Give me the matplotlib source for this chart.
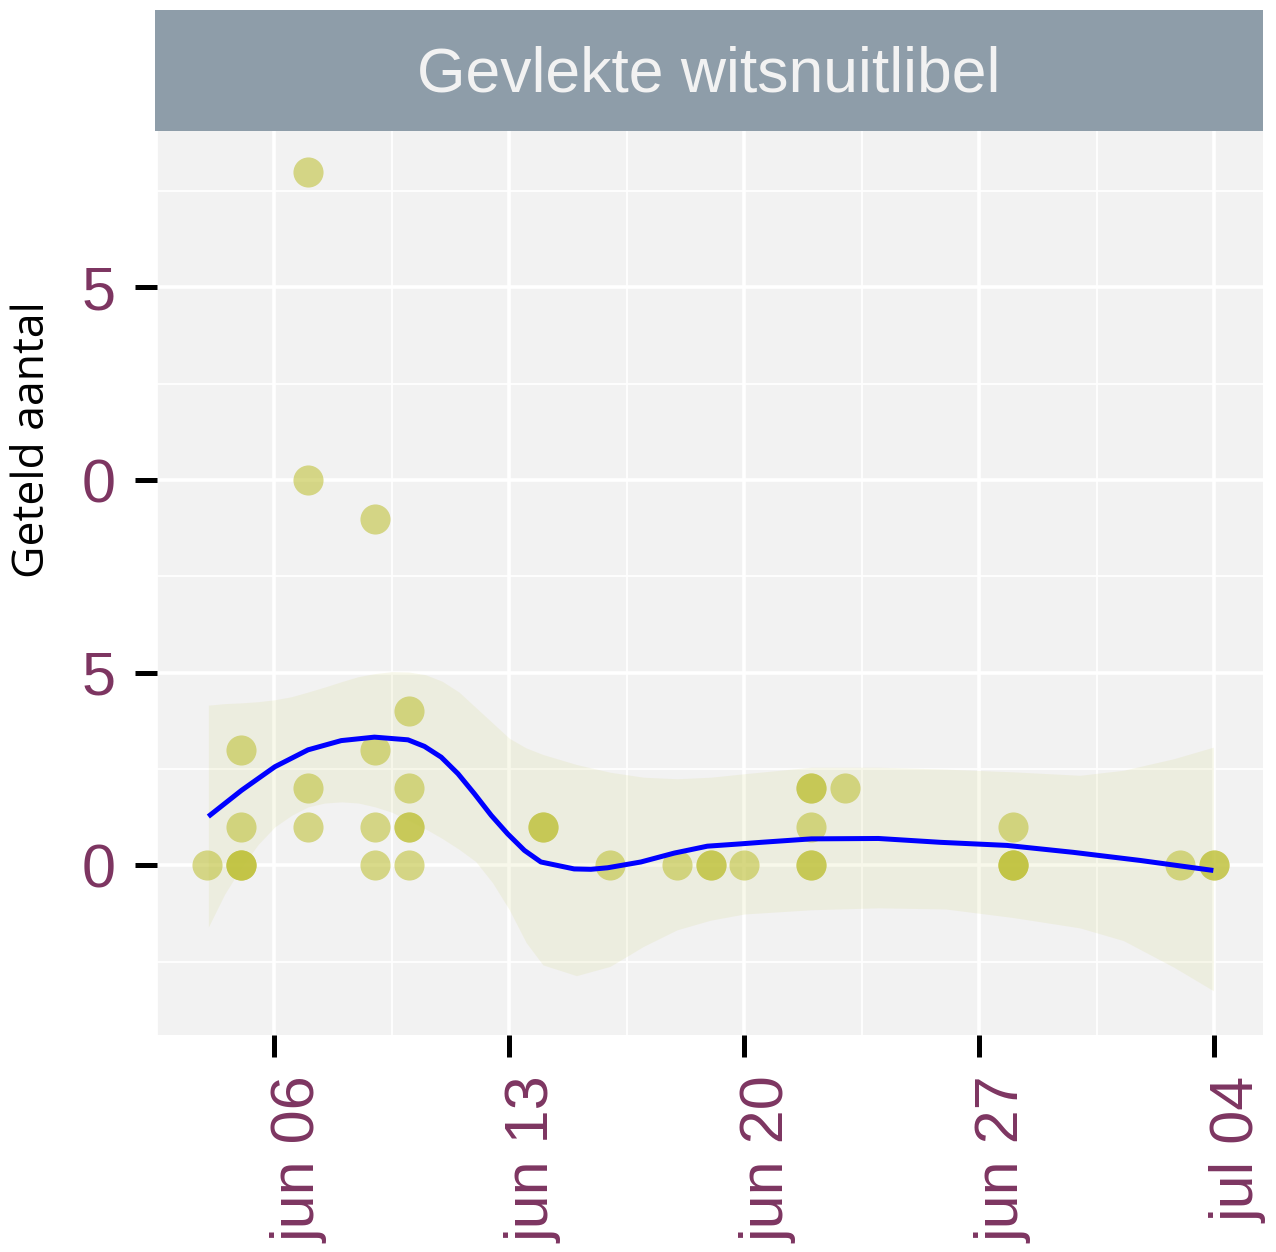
import pandas as pd
import numpy as np
import matplotlib
matplotlib.use("Agg")
import matplotlib.pyplot as plt
import matplotlib.transforms as mtransforms

## observed counts (duplicates repeated so that overlapping dots get darker)
obs_date = ['2021-06-04',
            '2021-06-05', '2021-06-05', '2021-06-05', '2021-06-05', '2021-06-05',
            '2021-06-07', '2021-06-07', '2021-06-07', '2021-06-07',
            '2021-06-09', '2021-06-09', '2021-06-09', '2021-06-09',
            '2021-06-10', '2021-06-10', '2021-06-10', '2021-06-10', '2021-06-10',
            '2021-06-14', '2021-06-14',
            '2021-06-16', '2021-06-18', '2021-06-19', '2021-06-19', '2021-06-20',
            '2021-06-22', '2021-06-22', '2021-06-22', '2021-06-22', '2021-06-22',
            '2021-06-23',
            '2021-06-28', '2021-06-28', '2021-06-28', '2021-06-28',
            '2021-07-03', '2021-07-04', '2021-07-04']
obs_count = [0,
             0, 0, 0, 1, 3,
             18, 10, 2, 1,
             9, 3, 1, 0,
             4, 2, 1, 1, 0,
             1, 1,
             0, 0, 0, 0, 0,
             2, 2, 1, 0, 0,
             2,
             1, 0, 0, 0,
             0, 0, 0]

## smoother line (day of june, jul 4 = 34)
curve_day = [4.03, 5.02, 6.01, 7.0, 7.99, 8.98, 9.98, 10.47, 10.97, 11.47, 11.96,
             12.46, 12.95, 13.45, 13.94, 14.93, 15.43, 15.93, 16.92, 17.91, 18.9,
             19.89, 20.5, 22.0, 24.0, 25.85, 27.83, 29.81, 31.8, 33.98]
curve_val = [1.27, 1.95, 2.56, 3.0, 3.24, 3.33, 3.26, 3.09, 2.81, 2.38, 1.86,
             1.30, 0.82, 0.39, 0.09, -0.09, -0.10, -0.06, 0.09, 0.32, 0.50,
             0.56, 0.60, 0.69, 0.70, 0.60, 0.52, 0.34, 0.13, -0.13]

## confidence band
band_day = [4.03, 4.52, 5.02, 5.52, 6.01, 6.51, 7.0, 7.5, 8.0, 8.5, 9.0, 9.5, 10.0,
            10.5, 11.0, 11.5, 12.0, 12.5, 13.0, 13.5, 14.0, 15.0, 16.0, 17.0, 18.0,
            19.0, 20.0, 22.0, 24.0, 26.0, 28.0, 30.0, 31.3, 32.8, 33.98]
band_up = [4.16, 4.2, 4.22, 4.25, 4.3, 4.38, 4.5, 4.63, 4.77, 4.9, 4.98, 5.03, 5.02,
           4.95, 4.78, 4.5, 4.1, 3.7, 3.3, 3.05, 2.88, 2.62, 2.42, 2.29, 2.25,
           2.29, 2.38, 2.55, 2.55, 2.5, 2.43, 2.34, 2.47, 2.77, 3.07]
band_lo = [-1.6, -0.74, -0.04, 0.55, 1.0, 1.3, 1.52, 1.62, 1.65, 1.62, 1.52, 1.38, 1.17,
           0.95, 0.7, 0.42, 0.1, -0.45, -1.15, -2.0, -2.58, -2.86, -2.62, -2.1, -1.67,
           -1.42, -1.26, -1.15, -1.1, -1.13, -1.35, -1.62, -1.95, -2.64, -3.25]

tick_dates = ['2021-06-06', '2021-06-13', '2021-06-20', '2021-06-27', '2021-07-04']
tick_labels = ['jun 06', 'jun 13', 'jun 20', 'jun 27', 'jul 04']
ytick_vals = [0, 5, 10, 15]
ytick_labels = ['0', '5', '0', '5']
title = 'Gevlekte witsnuitlibel'
ylabel = 'Geteld aantal'

base = pd.Timestamp('2021-05-31')
def todate(days):
    return base + pd.to_timedelta(np.array(days), unit='D')

plt.rcParams['font.family'] = ['Liberation Sans', 'DejaVu Sans']
fig = plt.figure(figsize=(12.76, 12.52), dpi=100)
ax = fig.add_axes([157/1276, 1-1035/1252, (1263-157)/1276, (1035-131)/1252])
ax.set_facecolor('#F2F2F2')
for s in ax.spines.values():
    s.set_visible(False)

ax.fill_between(todate(band_day), band_lo, band_up, color='#C0C23C', alpha=0.1,
                lw=0, zorder=2)
ax.scatter(pd.to_datetime(obs_date), obs_count, s=470, color='#C0C23C', alpha=0.6,
           lw=0, zorder=3)
ax.plot(todate(curve_day), curve_val, color='#0000FF', lw=3.6, zorder=4,
        solid_joinstyle='round', solid_capstyle='butt')

ax.set_xlim(todate([2.55])[0], todate([35.46])[0])
ax.set_ylim(-4.4, 19.06)

ax.set_xticks(pd.to_datetime(tick_dates))
ax.set_xticklabels(tick_labels, rotation=90, va='top', ha='center')
ax.set_xticks(todate([2.5, 9.5, 16.5, 23.5, 30.5]), minor=True)
ax.set_yticks(ytick_vals)
ax.set_yticklabels(ytick_labels)
ax.set_yticks([-2.5, 2.5, 7.5, 12.5, 17.5], minor=True)
ax.grid(which='major', color='white', lw=2.6, zorder=1)
ax.grid(which='minor', color='white', lw=1.3, zorder=1)
ax.set_axisbelow(True)
ax.tick_params(which='major', length=16, width=3.6, color='black', pad=14,
               labelsize=44, labelcolor='#7D3561')
ax.tick_params(which='minor', length=0)
offset = mtransforms.ScaledTranslation(0.25, 0, fig.dpi_scale_trans)
for lab in ax.get_xticklabels():
    lab.set_transform(lab.get_transform() + offset)

## strip header
strip = fig.add_axes([155/1276, 1-131/1252, (1263-155)/1276, 121/1252])
strip.set_facecolor('#8E9DA9')
strip.set_xticks([])
strip.set_yticks([])
for s in strip.spines.values():
    s.set_visible(False)
strip.text(0.5, 0.46, title, ha='center', va='center', fontsize=45, color='#F2F2F2',
           transform=strip.transAxes)

fig.text(33/1276, 1-440/1252, ylabel, rotation=90, ha='center', va='center',
         fontsize=32, color='black', family=['Open Sans', 'DejaVu Sans'])

fig.savefig('out.png', dpi=100)
